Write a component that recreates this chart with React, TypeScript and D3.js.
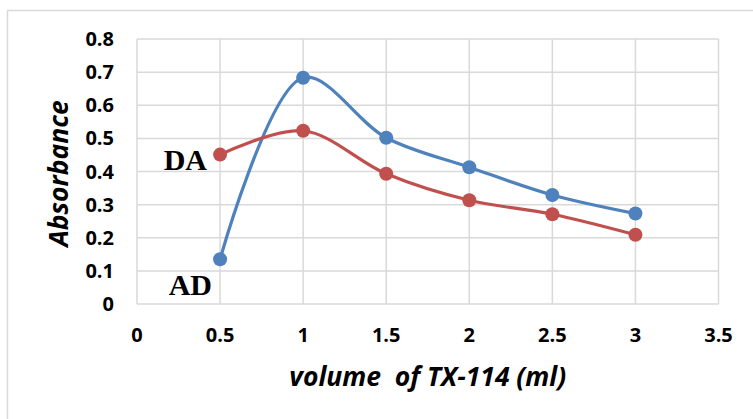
import React from "react";
import * as d3 from "d3";

const volumes = [0.5, 1, 1.5, 2, 2.5, 3];
const adValues = [0.135, 0.683, 0.502, 0.413, 0.329, 0.273];
const daValues = [0.451, 0.523, 0.393, 0.313, 0.271, 0.209];
const xTicks = [0, 0.5, 1, 1.5, 2, 2.5, 3, 3.5];
const yTicks = [0, 0.1, 0.2, 0.3, 0.4, 0.5, 0.6, 0.7, 0.8];
const seriesNames = ["AD", "DA"];

const W = 753;
const H = 419;
const plot = { left: 137, right: 718.5, top: 39, bottom: 304 };

const BLUE = "#4F81BD";
const RED = "#C0504D";
const GRID = "#d9d9d9";
const SANS = "'Open Sans', sans-serif";
const SERIF = "'Liberation Serif', 'Times New Roman', serif";

export default function App() {
  const x = d3.scaleLinear().domain([0, 3.5]).range([plot.left, plot.right]);
  const y = d3.scaleLinear().domain([0, 0.8]).range([plot.bottom, plot.top]);

  const line = d3
    .line<[number, number]>()
    .x((d) => x(d[0]))
    .y((d) => y(d[1]))
    .curve(d3.curveCatmullRom.alpha(0.5));

  const series = [
    { name: seriesNames[0], values: adValues, color: BLUE },
    { name: seriesNames[1], values: daValues, color: RED },
  ];

  const pts = (vals: number[]) => volumes.map((v, i) => [v, vals[i]] as [number, number]);

  return (
    <svg
      width={W}
      height={H}
      style={{ position: "absolute", left: 0, top: 0, background: "#fff" }}
    >
      <rect x={7.5} y={10.5} width={W + 20} height={H + 20} fill="#fff" stroke={GRID} strokeWidth={1.5} />

      {/* grid */}
      {yTicks.map((t) => (
        <line key={"gy" + t} x1={plot.left} x2={plot.right} y1={y(t)} y2={y(t)} stroke={GRID} strokeWidth={1.5} />
      ))}
      {xTicks.map((t) => (
        <line key={"gx" + t} x1={x(t)} x2={x(t)} y1={plot.top} y2={plot.bottom} stroke={GRID} strokeWidth={1.5} />
      ))}

      {/* y tick labels */}
      {yTicks.map((t) => (
        <text
          key={"ty" + t}
          x={114}
          y={y(t) + 7}
          textAnchor="end"
          fontFamily={SANS}
          fontWeight={700}
          fontSize={20}
          fill="#000"
        >
          {t === 0 ? "0" : t.toFixed(1)}
        </text>
      ))}

      {/* x tick labels */}
      {xTicks.map((t) => (
        <text
          key={"tx" + t}
          x={x(t)}
          y={342}
          textAnchor="middle"
          fontFamily={SANS}
          fontWeight={700}
          fontSize={20}
          fill="#000"
        >
          {String(t)}
        </text>
      ))}

      {/* axis titles */}
      <text
        x={(plot.left + plot.right) / 2}
        y={386}
        textAnchor="middle"
        fontFamily={SANS}
        fontWeight={700}
        fontStyle="italic"
        fontSize={26.5}
        fill="#000"
        style={{ whiteSpace: "pre" }}
      >
        {"volume  of TX-114 (ml)"}
      </text>
      <text
        transform={`translate(68, ${(plot.top + plot.bottom) / 2 + 2}) rotate(-90)`}
        textAnchor="middle"
        fontFamily={SANS}
        fontWeight={700}
        fontStyle="italic"
        fontSize={26.5}
        fill="#000"
      >
        Absorbance
      </text>

      {/* series */}
      {series.map((s) => (
        <g key={s.name}>
          <path d={line(pts(s.values)) ?? ""} fill="none" stroke={s.color} strokeWidth={3.2} />
          {volumes.map((v, i) => (
            <circle key={v} cx={x(v)} cy={y(s.values[i])} r={7} fill={s.color} />
          ))}
        </g>
      ))}

      {/* series labels */}
      <text
        x={207}
        y={169.5}
        textAnchor="end"
        fontFamily={SERIF}
        fontWeight={700}
        fontSize={30}
        fill="#000"
      >
        {seriesNames[1]}
      </text>
      <text
        x={212}
        y={295}
        textAnchor="end"
        fontFamily={SERIF}
        fontWeight={700}
        fontSize={30}
        fill="#000"
      >
        {seriesNames[0]}
      </text>
    </svg>
  );
}
